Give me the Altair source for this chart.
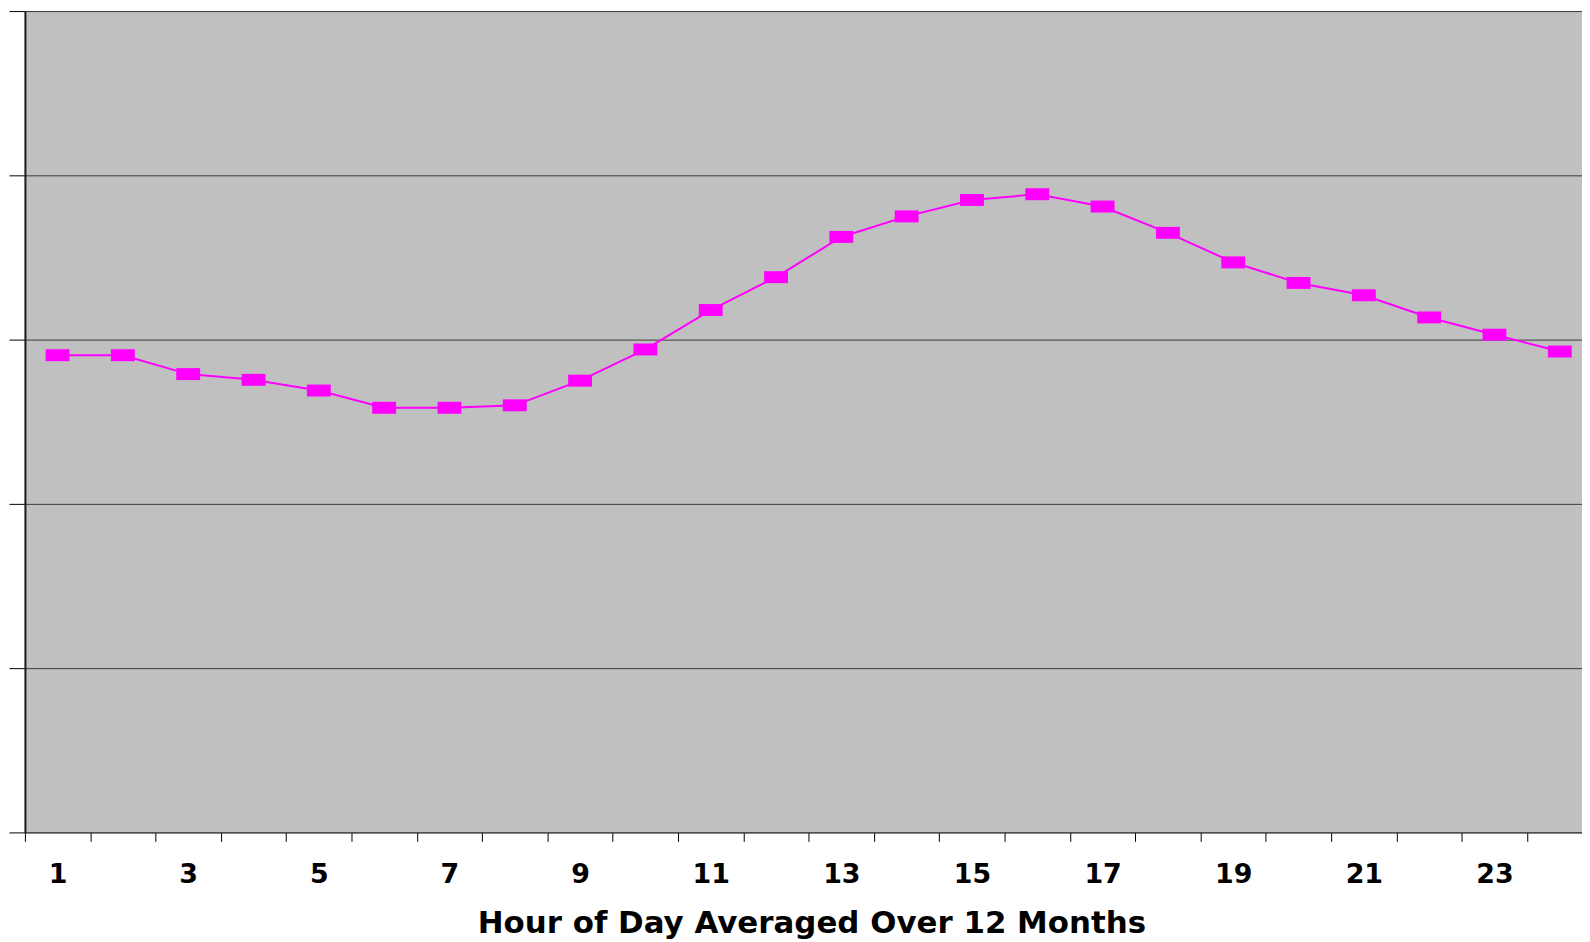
import altair as alt
import pandas as pd

hours = list(range(1, 25))
values = [58.1, 58.1, 55.8, 55.1, 53.8, 51.7, 51.7, 52.0, 55.0, 58.8, 63.6, 67.6,
          72.5, 75.0, 77.0, 77.7, 76.2, 73.0, 69.4, 66.9, 65.4, 62.7, 60.6, 58.55]
tick_bounds = [h - 0.5 for h in hours]
label_hours = list(range(1, 24, 2))
y_ticks = [0, 20, 40, 60, 80, 100]

df = pd.DataFrame({"hour": hours, "value": values})

MAGENTA = "#FF00FF"

x_enc = alt.X(
    "hour:Q",
    scale=alt.Scale(domain=[0.5, 24.34], nice=False, zero=False),
    axis=alt.Axis(
        values=sorted(tick_bounds + label_hours),
        labelExpr="datum.value % 1 == 0 ? '' + datum.value : ''",
        tickOpacity={"condition": {"test": "datum.value % 1 == 0", "value": 0}, "value": 1},
        tickSize=9,
        tickColor="#000000",
        tickWidth=1,
        domainColor="#333333",
        domainWidth=1,
        grid=False,
        labelFont="DejaVu Sans",
        labelFontSize=27,
        labelFontWeight="bold",
        labelColor="#000000",
        labelPadding=20,
        labelOverlap=False,
        labelFlush=False,
        labelBound=False,
        title="Hour of Day Averaged Over 12 Months",
        titleFont="DejaVu Sans",
        titleFontSize=31,
        titleFontWeight="bold",
        titleColor="#000000",
        titlePadding=22,
        titleX=790,
        titleAnchor="middle",
        titleAlign="center",
    ),
)

y_enc = alt.Y(
    "value:Q",
    scale=alt.Scale(domain=[0, 100], nice=False),
    axis=alt.Axis(
        values=y_ticks,
        labels=False,
        title=None,
        tickSize=16,
        tickColor="#000000",
        tickWidth=1,
        domainColor="#1a1a1a",
        domainWidth=2,
        grid=True,
        gridColor="#3a3a3a",
        gridWidth=1,
    ),
)

line = alt.Chart(df).mark_line(color=MAGENTA, strokeWidth=2).encode(x=x_enc, y=y_enc)
points = alt.Chart(df).mark_point(
    shape="M-1,-0.5H1V0.5H-1Z",
    size=576,
    filled=True,
    fill=MAGENTA,
    color=MAGENTA,
    opacity=1,
    strokeWidth=0,
).encode(x="hour:Q", y="value:Q")

chart = (
    alt.layer(line, points)
    .properties(width=1564, height=825, padding={"left": 0, "top": 0, "right": 0, "bottom": 0},
                background="#FFFFFF")
    .configure_view(fill="#C0C0C0", stroke=None)
)

chart.save("out.html", embed_options={"renderer": "svg", "actions": False})
